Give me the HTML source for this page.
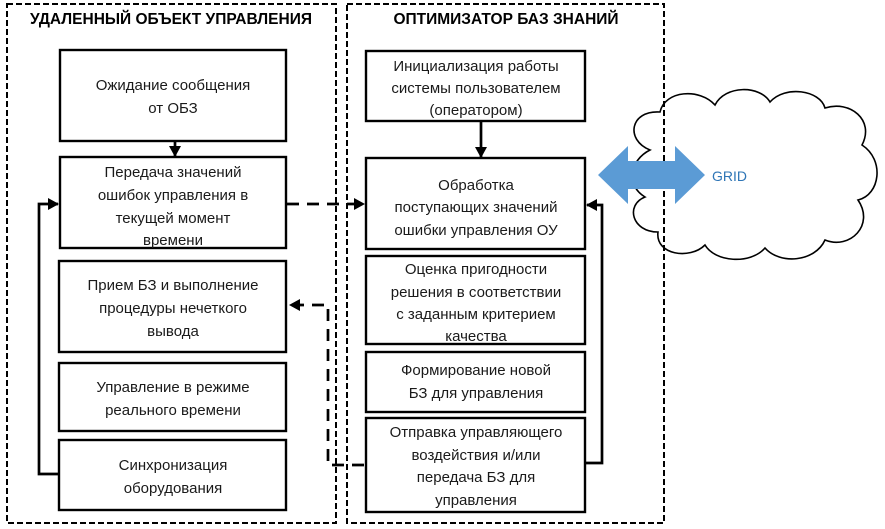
<!DOCTYPE html>
<html><head><meta charset="utf-8"><style>
body{margin:0;background:#fff}
svg{display:block}
text{font-family:"Liberation Sans",sans-serif;font-size:15px;fill:#1a1a1a}
.t{font-weight:bold;font-size:15.5px;fill:#000}
</style></head><body>
<svg width="885" height="529" viewBox="0 0 885 529" xmlns="http://www.w3.org/2000/svg">
<defs>
<marker id="a" markerWidth="11" markerHeight="12" refX="10" refY="6" orient="auto" markerUnits="userSpaceOnUse"><path d="M0,0 L11,6 L0,12 z" fill="#000"/></marker>
</defs>
<g fill="#fff" stroke="#000" stroke-width="1.6">
<path d="M650,150 C625,140 630,110 660,112 C665,90 700,88 715,105 C725,85 760,85 770,102 C785,85 820,90 825,108 C850,100 875,120 862,145 C885,160 880,195 858,200 C875,225 850,250 825,240 C815,262 780,265 765,248 C750,265 715,262 705,245 C690,260 655,255 658,232 C632,232 625,205 645,197 C625,185 630,160 650,150 Z"/>
</g>
<rect x="7" y="4" width="329" height="519" fill="none" stroke="#000" stroke-width="2" stroke-dasharray="6,3"/>
<rect x="347" y="4" width="317" height="519" fill="none" stroke="#000" stroke-width="2" stroke-dasharray="6,3"/>
<text class="t" x="171" y="24" text-anchor="middle">УДАЛЕННЫЙ ОБЪЕКТ УПРАВЛЕНИЯ</text>
<text class="t" x="506" y="24" text-anchor="middle">ОПТИМИЗАТОР БАЗ ЗНАНИЙ</text>
<path d="M598,175 L628,146 L628,161 L675,161 L675,146 L705,175 L675,204 L675,189 L628,189 L628,204 Z" fill="#5b9bd5"/>
<text x="712" y="181" style="fill:#2e75b6;font-size:14px">GRID</text>
<g fill="#fff" stroke="#000" stroke-width="2.4">
<rect x="60" y="50" width="226" height="91"/>
<rect x="60" y="157" width="226" height="91"/>
<rect x="59" y="261" width="227" height="91"/>
<rect x="59" y="363" width="227" height="68"/>
<rect x="59" y="440" width="227" height="70"/>
<rect x="366" y="51" width="219" height="70"/>
<rect x="366" y="158" width="219" height="91"/>
<rect x="366" y="256" width="219" height="88"/>
<rect x="366" y="352" width="219" height="60"/>
<rect x="366" y="418" width="219" height="94"/>
</g>
<g text-anchor="middle">
<text x="173" y="90">Ожидание сообщения</text><text x="173" y="113">от ОБЗ</text>
<text x="173" y="177">Передача значений</text><text x="173" y="200">ошибок управления в</text><text x="173" y="223">текущей момент</text><text x="173" y="245">времени</text>
<text x="173" y="290">Прием БЗ и выполнение</text><text x="173" y="313">процедуры нечеткого</text><text x="173" y="336">вывода</text>
<text x="173" y="392">Управление в режиме</text><text x="173" y="415">реального времени</text>
<text x="173" y="470">Синхронизация</text><text x="173" y="493">оборудования</text>
<text x="476" y="71">Инициализация работы</text><text x="476" y="93">системы пользователем</text><text x="476" y="115">(оператором)</text>
<text x="476" y="190">Обработка</text><text x="476" y="212">поступающих значений</text><text x="476" y="235">ошибки управления ОУ</text>
<text x="476" y="274">Оценка пригодности</text><text x="476" y="297">решения в соответствии</text><text x="476" y="319">с заданным критерием</text><text x="476" y="341">качества</text>
<text x="476" y="375">Формирование новой</text><text x="476" y="398">БЗ для управления</text>
<text x="476" y="437">Отправка управляющего</text><text x="476" y="460">воздействия и/или</text><text x="476" y="482">передача БЗ для</text><text x="476" y="505">управления</text>
</g>
<g fill="none" stroke="#000" stroke-width="2.7">
<line x1="175" y1="141" x2="175" y2="156" marker-end="url(#a)"/>
<line x1="481" y1="121" x2="481" y2="157" marker-end="url(#a)"/>
<polyline points="58,474 39,474 39,204 58,204" marker-end="url(#a)"/>
<polyline points="585,463 602,463 602,205 587,205" marker-end="url(#a)"/>
<line x1="287" y1="204" x2="364" y2="204" stroke-dasharray="12,8" marker-end="url(#a)"/>
<polyline points="364,465 328,465 328,305 290,305" stroke-dasharray="12,8" marker-end="url(#a)"/>
</g>
</svg>
</body></html>
